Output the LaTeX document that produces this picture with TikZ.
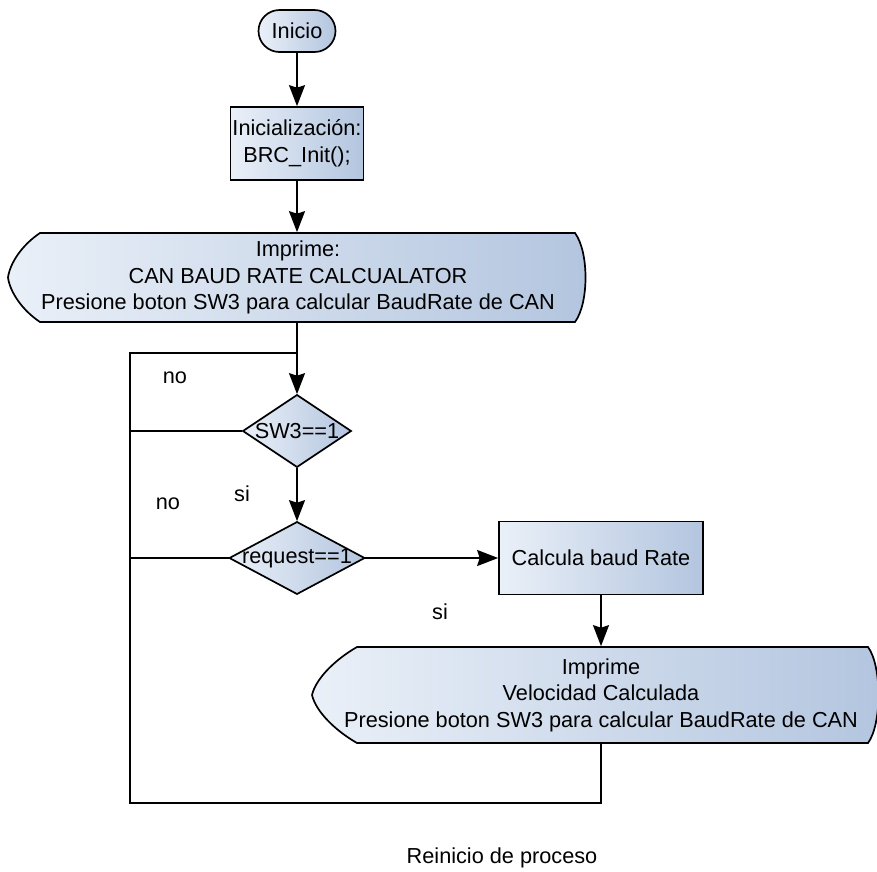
\documentclass[tikz,border=0pt]{standalone}
\usepackage{fontspec}
\setmainfont{Liberation Sans}
\usetikzlibrary{arrows.meta}
\definecolor{fl}{HTML}{EAF0F8}
\definecolor{fr}{HTML}{B3C5DF}
\begin{document}
\begin{tikzpicture}[x=1pt,y=-1pt, font=\fontsize{21.7}{26.5}\selectfont, line width=1.7pt,
  fillg/.style={left color=fl, right color=fr},
  arr/.style={-{Stealth[length=21pt,width=16pt,inset=2.5pt]}},
  txt/.style={align=center, inner sep=0pt},
  procbox/.style={draw, fillg, align=center, inner sep=0pt}]
\useasboundingbox (0,0) rectangle (877,871);

% terminal
\node[procbox, rounded corners=21pt, minimum width=77pt, minimum height=42pt] (start) at (297,31) {Inicio};
% init
\node[procbox, minimum width=133pt, minimum height=73pt] (init) at (297,143.5) {Inicialización:\\BRC\_Init();};
% print 1
\path[draw, fillg] (40,233) -- (575,233) .. controls (589,252) and (589,303) .. (575,322) -- (40,322) .. controls (22,310) and (10,292) .. (8,277.5) .. controls (10,263) and (22,245) .. (40,233) -- cycle;
\node[txt, minimum width=577pt, minimum height=89pt] (p1) at (298,277.5) {Imprime:\\CAN BAUD RATE CALCUALATOR\\Presione boton SW3 para calcular BaudRate de CAN};
% diamond SW3
\path[draw, fillg] (297,395) -- (351,431) -- (297,467) -- (243,431) -- cycle;
\node[txt, minimum width=108pt, minimum height=72pt] (sw) at (297,431) {SW3==1};
% diamond request
\path[draw, fillg] (297,522) -- (364.5,558) -- (297,594) -- (229.5,558) -- cycle;
\node[txt, minimum width=135pt, minimum height=72pt] (rq) at (297,558) {request==1};
% calc box
\node[procbox, minimum width=204pt, minimum height=73pt] (calc) at (601,558) {Calcula baud Rate};
% print 2
\path[draw, fillg] (357,647) -- (868,647) .. controls (882,666) and (882,724) .. (868,743) -- (357,743) .. controls (336,731) and (316,712) .. (312,695) .. controls (316,678) and (336,659) .. (357,647) -- cycle;
\node[txt, minimum width=500pt, minimum height=96pt] (p2) at (601,695) {Imprime\\Velocidad Calculada\\Presione boton SW3 para calcular BaudRate de CAN};

% coordinates
\coordinate (j1) at (297,353);
\coordinate (tl) at (130,353);
\coordinate (bl) at (130,803);
\coordinate (br) at (601,803);

% connectors
\draw[arr] (start.south) -- (init.north);
\draw[arr] (init.south) -- (p1.north -| init.south);
\draw (p1.south -| j1) -- (j1);
\draw[arr] (j1) -- (sw.north);
\draw[arr] (sw.south) -- (rq.north);
\draw[arr] (rq.east) -- (calc.west);
\draw[arr] (calc.south) -- (p2.north);
\draw (sw.west) -- (sw.west -| tl);
\draw (rq.west) -- (rq.west -| tl);
\draw (p2.south) -- (br) -- (bl) -- (tl) -- (j1);

% labels
\node (no1) at (175,378) {no};
\node (si1) at (242,494) {si};
\node (no2) at (168,504) {no};
\node (si2) at (440,612) {si};
\node (rei) at (502,858) {Reinicio de proceso};
\end{tikzpicture}
\end{document}
